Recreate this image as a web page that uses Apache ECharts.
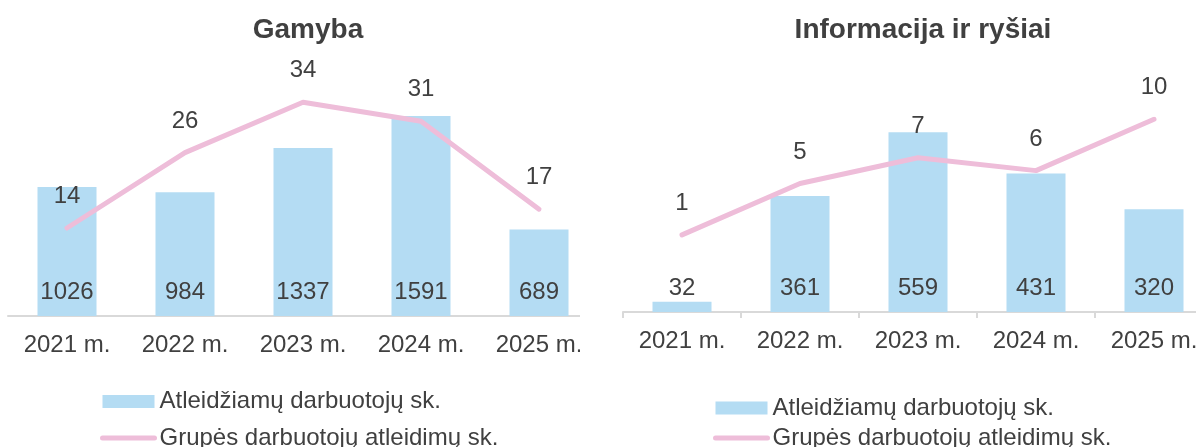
<!DOCTYPE html>
<html>
<head>
<meta charset="utf-8">
<script src="https://cdn.jsdelivr.net/npm/echarts@6/dist/echarts.min.js"></script>
<style>
  html, body { margin: 0; padding: 0; background: #ffffff; }
  #wrap { position: relative; width: 1196px; height: 447px; overflow: hidden; }
  #leftClip { position: absolute; left: 0; top: 0; width: 580px; height: 447px; overflow: hidden; }
  #left { position: absolute; left: 0; top: 0; width: 600px; height: 447px; }
  #right { position: absolute; left: 598px; top: 0; width: 620px; height: 447px; }
</style>
</head>
<body>
<div id="wrap">
  <div id="leftClip"><div id="left"></div></div>
  <div id="right"></div>
</div>
<script>
// Years shown on both panels
const years = ['2021 m.', '2022 m.', '2023 m.', '2024 m.', '2025 m.'];

// Gamyba
const gamybaTitle = 'Gamyba';
const gamybaEmployees = [1026, 984, 1337, 1591, 689];
const gamybaGroupLayoffs = [14, 26, 34, 31, 17];

// Informacija ir ryšiai
const infoTitle = 'Informacija ir ryšiai';
const infoEmployees = [32, 361, 559, 431, 320];
const infoGroupLayoffs = [1, 5, 7, 6, 10];

const barName = 'Atleidžiamų darbuotojų sk.';
const lineName = 'Grupės darbuotojų atleidimų sk.';

const FONT = '"Liberation Sans", Arial, sans-serif';
const TEXT = '#404040';
const BAR = '#b4dcf3';
const LINE = '#eebdd9';
const AXIS = '#d9d9d9';
const FS = 24;

function panel(cfg) {
  return {
    animation: false,
    textStyle: { fontFamily: FONT, color: TEXT },
    title: {
      text: cfg.title,
      left: cfg.titleX,
      top: 11,
      textAlign: 'center',
      textStyle: { fontFamily: FONT, fontSize: 28, fontWeight: 'bold', color: TEXT }
    },
    legend: {
      orient: 'vertical',
      left: cfg.legendLeft,
      top: cfg.legendTop,
      height: 120,
      padding: 0,
      itemGap: cfg.legendGap,
      itemWidth: 52,
      itemHeight: 13,
      textStyle: { fontFamily: FONT, fontSize: FS, color: TEXT },
      data: [
        { name: barName, icon: 'rect' },
        {
          name: lineName,
          itemStyle: { color: 'rgba(0,0,0,0)', borderWidth: 0 },
          lineStyle: { color: LINE, width: 5, cap: 'round' }
        }
      ]
    },
    grid: {
      left: cfg.gridLeft,
      top: cfg.gridTop,
      width: 590,
      height: cfg.gridHeight
    },
    xAxis: {
      type: 'category',
      data: years,
      boundaryGap: true,
      axisLine: { show: true, lineStyle: { color: AXIS, width: 2 } },
      axisTick: { show: cfg.ticks, length: 6, lineStyle: { color: AXIS, width: 2 } },
      axisLabel: { fontFamily: FONT, fontSize: FS, color: TEXT, margin: 17 }
    },
    yAxis: [
      { type: 'value', show: false, min: cfg.barMin, max: cfg.barMax, splitLine: { show: false } },
      { type: 'value', show: false, min: cfg.lineMin, max: cfg.lineMax, splitLine: { show: false } }
    ],
    series: [
      {
        name: barName,
        type: 'bar',
        data: cfg.bars,
        barWidth: '50%',
        itemStyle: { color: BAR },
        label: {
          show: true,
          position: 'insideBottom',
          distance: 12,
          fontFamily: FONT,
          fontSize: FS,
          color: TEXT
        },
        z: 2
      },
      {
        name: lineName,
        type: 'line',
        yAxisIndex: 1,
        data: cfg.line,
        symbol: 'circle',
        symbolSize: 0,
        showSymbol: true,
        lineStyle: { color: LINE, width: 5, cap: 'round', join: 'round' },
        itemStyle: { color: LINE },
        label: {
          show: true,
          position: 'top',
          distance: 19.5,
          fontFamily: FONT,
          fontSize: FS,
          color: TEXT
        },
        labelLayout: { hideOverlap: false },
        z: 3
      }
    ]
  };
}

const leftChart = echarts.init(document.getElementById('left'), null, { renderer: 'canvas' });
leftChart.setOption(panel({
  title: gamybaTitle,
  titleX: 303,
  legendLeft: 100,
  legendTop: 389.5,
  legendGap: 12.5,
  gridLeft: 8,
  gridTop: 64.6,
  gridHeight: 251.4,
  ticks: false,
  barMin: 0, barMax: 2000,
  lineMin: 0, lineMax: 40,
  bars: gamybaEmployees,
  line: gamybaGroupLayoffs
}));

const rightChart = echarts.init(document.getElementById('right'), null, { renderer: 'canvas' });
rightChart.setOption(panel({
  title: infoTitle,
  titleX: 320,
  legendLeft: 115,
  legendTop: 396,
  legendGap: 6,
  gridLeft: 25,
  gridTop: 119.2,
  gridHeight: 192.8,
  ticks: true,
  barMin: 0, barMax: 600,
  lineMin: -5, lineMax: 10,
  bars: infoEmployees,
  line: infoGroupLayoffs
}));
</script>
</body>
</html>
